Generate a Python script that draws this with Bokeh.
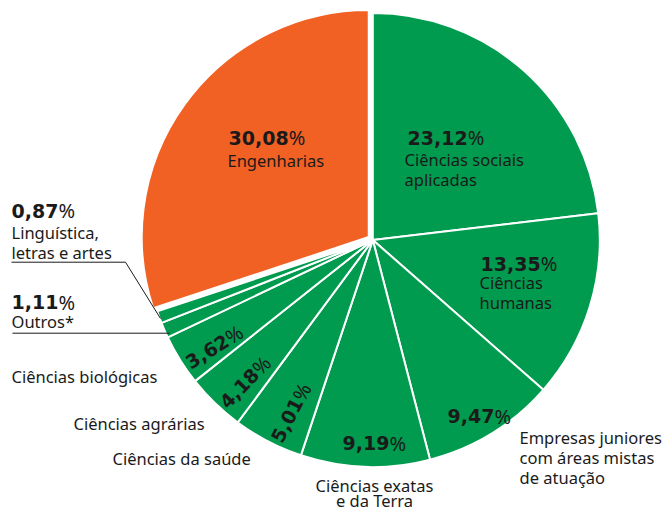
import math
from bokeh.plotting import figure
from bokeh.models import ColumnDataSource, Range1d
from bokeh.embed import file_html
from bokeh.resources import INLINE
from bokeh.core.properties import value

# ---- data ----
categories = ["Ciências sociais aplicadas", "Ciências humanas",
              "Empresas juniores com áreas mistas de atuação",
              "Ciências exatas e da Terra", "Ciências da saúde",
              "Ciências agrárias", "Ciências biológicas", "Outros*",
              "Linguística, letras e artes", "Engenharias"]
shares = [23.12, 13.35, 9.47, 9.19, 5.01, 4.18, 3.62, 1.11, 0.87, 30.08]
share_labels = ["23,12", "13,35", "9,47", "9,19", "5,01", "4,18", "3,62",
                "1,11", "0,87", "30,08"]
colors = ["#009b4f"] * 9 + ["#f26124"]

TXT = "#1a1a1a"
W, H = 670, 513


def Y(img_y):
    return H - img_y


CX, CY, R = 372.3, Y(239.5), 227
EXPLODE = 5.0

p = figure(width=W, height=H, x_range=Range1d(0, W), y_range=Range1d(0, H),
           toolbar_location=None, output_backend="svg", min_border=0,
           x_axis_location=None, y_axis_location=None)
p.grid.visible = False
p.outline_line_color = None
p.background_fill_color = "white"
p.border_fill_color = "white"

total = sum(shares)
starts, ends, xs, ys, mids = [], [], [], [], []
cum = 0.0
for i, s in enumerate(shares):
    a_before = math.pi / 2 - 2 * math.pi * cum / total
    cum += s
    a_after = math.pi / 2 - 2 * math.pi * cum / total
    starts.append(a_after)
    ends.append(a_before)
    mid = (a_before + a_after) / 2
    mids.append(mid)
    off = EXPLODE if categories[i] == "Engenharias" else 0.0
    xs.append(CX + off * math.cos(mid))
    ys.append(CY + off * math.sin(mid))

src = ColumnDataSource(dict(x=xs, y=ys, start=starts, end=ends, color=colors, cat=categories))
p.wedge(x="x", y="y", radius=R, start_angle="start", end_angle="end",
        direction="anticlock", fill_color="color", line_color="white",
        line_width=2, source=src)

NUM_FONT = "DejaVu Sans"
NUM_SIZE = 19
PCT_FONT = "Noto Sans"
PCT_SIZE = 20
LAB_FONT = "Noto Sans"
LAB_SIZE = "16.5px"


def num_width(s):
    w = 0.0
    for ch in s:
        w += 0.381 if ch == "," else 0.696
    return w * NUM_SIZE


def pct_label(txt, x, y, angle=0.0):
    """bold number followed by a regular % sign, baseline starting at (x, y)"""
    wn = num_width(txt)
    p.text(x=[x], y=[y], text=[txt], angle=angle, text_font=value(NUM_FONT),
           text_font_style="bold", text_font_size=f"{NUM_SIZE}px",
           text_color=TXT, text_align="left", text_baseline="alphabetic")
    p.text(x=[x + wn * math.cos(angle)], y=[y + wn * math.sin(angle)], text=["%"],
           angle=angle, text_font=value(PCT_FONT), text_font_size=f"{PCT_SIZE}px",
           text_color=TXT, text_align="left", text_baseline="alphabetic")


def label_lines(lines, x, y0, step=20, align="left"):
    for k, t in enumerate(lines):
        p.text(x=[x], y=[Y(y0 + k * step)], text=[t], text_font=value(LAB_FONT),
               text_font_size=LAB_SIZE, text_color=TXT, text_align=align,
               text_baseline="alphabetic")


# horizontal percentage labels (image coords of the left edge / baseline)
pct_label(share_labels[9], 228, Y(137.3))
label_lines(["Engenharias"], 227, 160)
pct_label(share_labels[0], 407, Y(137.3))
label_lines(["Ciências sociais", "aplicadas"], 404, 159.3)
pct_label(share_labels[1], 480, Y(263.3))
label_lines(["Ciências", "humanas"], 479, 281.7)
pct_label(share_labels[2], 447, Y(415.7))
label_lines(["Empresas juniores", "com áreas mistas", "de atuação"], 519, 437.3)
pct_label(share_labels[3], 342, Y(442.7))
label_lines(["Ciências exatas", "e da Terra"], 374, 485, step=15, align="center")
pct_label(share_labels[8], 11, Y(210))
label_lines(["Linguística,", "letras e artes"], 11, 231.7)
pct_label(share_labels[7], 11, Y(301.7))
label_lines(["Outros*"], 11, 320.7)
label_lines(["Ciências biológicas"], 11, 376)
label_lines(["Ciências agrárias"], 73, 423)
label_lines(["Ciências da saúde"], 112, 458)

# radial percentage labels for the three narrow slices
RAD_R = 191
CAP = 0.729 * NUM_SIZE
for i in (4, 5, 6):
    th = mids[i]
    a = th + math.pi
    dx, dy = math.cos(a), math.sin(a)
    nx, ny = -math.sin(a), math.cos(a)
    wn = num_width(share_labels[i])
    wt = wn + 0.84 * PCT_SIZE
    cxm = CX + RAD_R * math.cos(th)
    cym = CY + RAD_R * math.sin(th)
    sx = cxm - wt / 2 * dx - CAP / 2 * nx
    sy = cym - wt / 2 * dy - CAP / 2 * ny
    pct_label(share_labels[i], sx, sy, angle=a)

# leader lines
p.line(x=[11, 125, 160], y=[Y(261.7), Y(261.7), Y(318)], line_color=TXT, line_width=1)
p.line(x=[12, 169], y=[Y(332.7), Y(332.7)], line_color=TXT, line_width=1)

open("out.html", "w").write(file_html(p, INLINE))
